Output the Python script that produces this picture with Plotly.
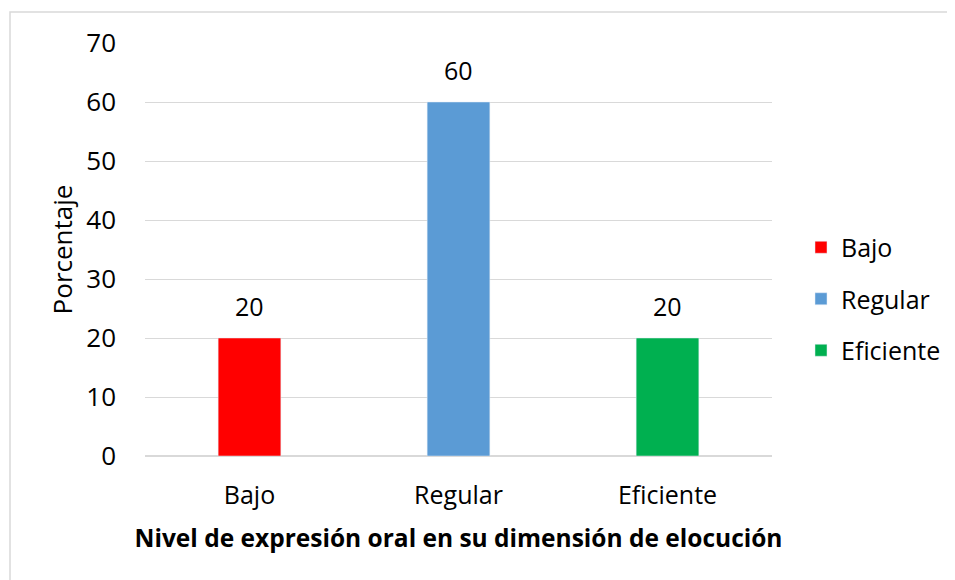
import plotly.graph_objects as go

categories = ["Bajo", "Regular", "Eficiente"]
values = [20, 60, 20]
colors = ["#ff0000", "#5b9bd5", "#00b050"]
y_ticks = [0, 10, 20, 30, 40, 50, 60, 70]

FONT = "Open Sans"

# page has 8px body margin; figure coords = page coords - 8
W, H = 947, 572
PL, PR, PT, PB = 137, 764, 35, 448
PW, PH = PR - PL, PB - PT

fig = go.Figure()
for i, (c, v) in enumerate(zip(categories, values)):
    fig.add_trace(go.Bar(
        x=[c], y=[v], name=c, marker_color=colors[i], width=0.3,
        legendgroup=c, hoverinfo="x+y",
    ))
    fig.add_annotation(
        x=c, y=v, text=str(v), showarrow=False, yanchor="bottom",
        yshift=13, font=dict(size=25, color="#000000", family=FONT),
    )

fig.update_layout(
    width=W, height=H,
    margin=dict(l=PL, r=W - PR, t=PT, b=H - PB, autoexpand=False),
    paper_bgcolor="white", plot_bgcolor="white",
    barmode="overlay",
    font=dict(family=FONT, color="#000000", size=25),
    showlegend=True,
    legend=dict(
        x=(793 - PL) / PW, y=(PB - 291) / PH, xanchor="left", yanchor="middle",
        font=dict(size=25, family=FONT), traceorder="grouped",
        tracegroupgap=16, itemwidth=30, bgcolor="rgba(0,0,0,0)",
    ),
    xaxis=dict(
        categoryorder="array", categoryarray=categories,
        tickfont=dict(size=25), ticks="", showgrid=False,
        showline=False, zeroline=False, ticklabelstandoff=22,
        title=dict(text="<b>Nivel de expresión oral en su dimensión de elocución</b>",
                   font=dict(size=24.5), standoff=19),
    ),
    yaxis=dict(
        range=[0, 70], tickvals=y_ticks, ticks="",
        tickfont=dict(size=26), showgrid=True, gridcolor="#d9d9d9",
        gridwidth=1, zeroline=True, zerolinecolor="#d9d9d9", zerolinewidth=1.5,
        showline=False, ticklabelstandoff=28,
        title=dict(text="Porcentaje", font=dict(size=26), standoff=6),
    ),
    shapes=[dict(
        type="rect", xref="paper", yref="paper",
        x0=(2 - PL) / PW, x1=(980 - PL) / PW,
        y0=-(600 - PB) / PH, y1=(PB - 4) / PH,
        line=dict(color="#d9d9d9", width=1.5), fillcolor="rgba(0,0,0,0)",
        layer="below",
    )],
)

fig.write_html("out.html")
